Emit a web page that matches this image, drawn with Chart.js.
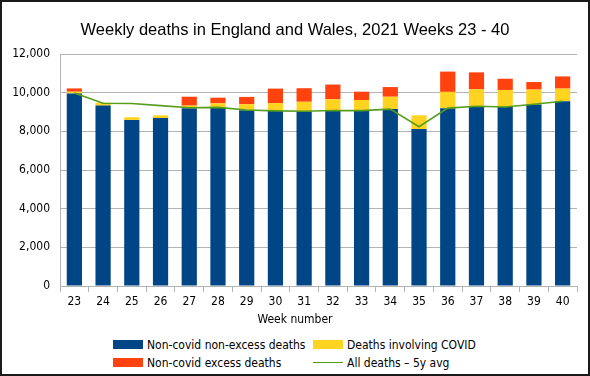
<!DOCTYPE html>
<html>
<head>
<meta charset="utf-8">
<script src="https://cdn.jsdelivr.net/npm/chart.js@4/dist/chart.umd.min.js"></script>
<style>
  html, body { margin: 0; padding: 0; background: #fff; }
  #frame { position: absolute; left: 0; top: 0; width: 590px; height: 376px; box-sizing: border-box; border: 2px solid #1a1a1a; }
  #wrap { position: absolute; left: 0; top: 0; width: 590px; height: 330px; }
  .txt { position: absolute; font-family: "DejaVu Sans Condensed", "Liberation Sans", sans-serif; color: #000; white-space: nowrap; }
  #title { left: 0; width: 590px; top: 20px; text-align: center; font-family: "Liberation Sans", Arial, sans-serif; font-size: 16.5px; }
  #xtitle { left: 0; width: 590px; top: 312px; text-align: center; font-size: 12px; }
  .item { position: absolute; font-family: "DejaVu Sans Condensed", "Liberation Sans", sans-serif; font-size: 12px; line-height: 14px; }
  .sw { position: absolute; width: 30px; height: 9px; }
  .ln { position: absolute; width: 30px; height: 0; border-top: 1.5px solid; }
</style>
</head>
<body>
<div id="frame"></div>
<div id="wrap"><canvas id="chart" width="590" height="330"></canvas></div>
<div class="txt" id="title">Weekly deaths in England and Wales, 2021 Weeks 23 - 40</div>
<div class="txt" id="xtitle">Week number</div>
<div id="legend"></div>
<script>
const weeks = ["23", "24", "25", "26", "27", "28", "29", "30", "31", "32", "33", "34", "35", "36", "37", "38", "39", "40"];
const nonCovidNonExcess = [9960, 9330, 8590, 8690, 9200, 9220, 9090, 9050, 9030, 9080, 9070, 9150, 8120, 9190, 9300, 9260, 9390, 9560];
const covidDeaths = [90, 150, 140, 140, 130, 230, 320, 410, 500, 580, 550, 640, 710, 850, 870, 880, 770, 650];
const nonCovidExcess = [170, 0, 0, 0, 460, 290, 370, 750, 700, 760, 430, 500, 0, 1050, 880, 580, 390, 630];
const avg5y = [9980, 9450, 9440, 9330, 9220, 9240, 9100, 9060, 9040, 9080, 9070, 9150, 8240, 9200, 9300, 9260, 9400, 9560];
const yTicks = [0, 2000, 4000, 6000, 8000, 10000, 12000];

const blue = "#004586", yellow = "#ffd320", red = "#ff420e", green = "#579d1c";
const gridGrey = "#b3b3b3";
const tickFont = { family: "'DejaVu Sans Condensed', 'Liberation Sans', sans-serif", size: 12 };

// legend in two fixed columns like the original
const legendItems = [
    { label: "Non-covid non-excess deaths", color: blue, x: 113, y: 340 },
    { label: "Deaths involving COVID", color: yellow, x: 313, y: 340 },
    { label: "Non-covid excess deaths", color: red, x: 113, y: 358 },
    { label: "All deaths \u2013 5y avg", color: green, x: 313, y: 358, line: true }
];
const legend = document.getElementById("legend");
legendItems.forEach((it) => {
    const m = document.createElement("div");
    if (it.line) {
        m.className = "ln";
        m.style.borderTopColor = it.color;
        m.style.left = it.x + "px";
        m.style.top = (it.y + 4) + "px";
    } else {
        m.className = "sw";
        m.style.background = it.color;
        m.style.left = it.x + "px";
        m.style.top = it.y + "px";
    }
    legend.appendChild(m);
    const t = document.createElement("div");
    t.className = "item";
    t.textContent = it.label;
    t.style.left = (it.x + 34) + "px";
    t.style.top = (it.y - 2) + "px";
    legend.appendChild(t);
});

const barOpts = { categoryPercentage: 1, barPercentage: 0.53, stack: "deaths", order: 1 };

new Chart(document.getElementById("chart"), {
    type: "bar",
    data: {
        labels: weeks,
        datasets: [
            { ...barOpts, label: "Non-covid non-excess deaths", data: nonCovidNonExcess, backgroundColor: blue },
            { ...barOpts, label: "Deaths involving COVID", data: covidDeaths, backgroundColor: yellow },
            { ...barOpts, label: "Non-covid excess deaths", data: nonCovidExcess, backgroundColor: red },
            {
                type: "line",
                label: "All deaths \u2013 5y avg",
                data: avg5y,
                borderColor: green,
                borderWidth: 1.6,
                pointRadius: 0,
                tension: 0,
                stack: "avg",
                order: 0
            }
        ]
    },
    options: {
        responsive: false,
        animation: false,
        layout: { padding: { left: 0, top: 54, right: 13, bottom: 0 } },
        plugins: {
            legend: { display: false },
            title: { display: false },
            tooltip: { enabled: false }
        },
        scales: {
            x: {
                stacked: true,
                offset: true,
                afterFit: (axis) => { axis.height = 44; },
                grid: {
                    offset: true,
                    color: (c) => (c.index === 0 || c.index === weeks.length) ? gridGrey : "rgba(0,0,0,0)",
                    tickColor: gridGrey,
                    tickLength: 6,
                    drawTicks: true
                },
                border: { color: gridGrey },
                ticks: { color: "#000", font: tickFont, padding: 3, maxRotation: 0, autoSkip: false }
            },
            y: {
                stacked: true,
                min: 0,
                max: 12000,
                afterFit: (axis) => { axis.width = 60; },
                afterBuildTicks: (axis) => { axis.ticks = yTicks.map((v) => ({ value: v })); },
                grid: { color: gridGrey, drawTicks: false },
                border: { color: gridGrey },
                ticks: {
                    color: "#000",
                    font: tickFont,
                    padding: 10,
                    callback: (v) => v.toLocaleString("en-US")
                }
            }
        }
    }
});
</script>
</body>
</html>
